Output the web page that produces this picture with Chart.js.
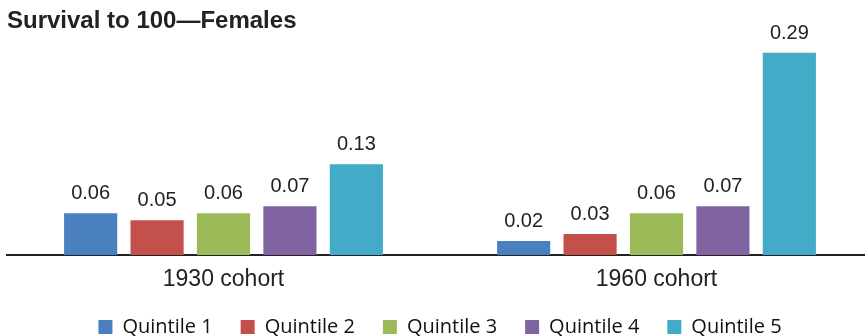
<!DOCTYPE html>
<html>
<head>
<meta charset="utf-8">
<title>Survival to 100—Females</title>
<script src="https://cdn.jsdelivr.net/npm/chart.js@4/dist/chart.umd.min.js"></script>
<style>
  html, body { margin: 0; padding: 0; background: #fff; overflow: hidden; }
  #wrap { width: 865px; height: 336px; overflow: hidden; }
</style>
</head>
<body>
<div id="wrap"><canvas id="chartBar" width="873" height="347"></canvas></div>
<script>
const cohorts = ['1930 cohort', '1960 cohort'];
const quintiles = ['Quintile 1', 'Quintile 2', 'Quintile 3', 'Quintile 4', 'Quintile 5'];
const quintile1 = [0.06, 0.02];
const quintile2 = [0.05, 0.03];
const quintile3 = [0.06, 0.06];
const quintile4 = [0.07, 0.07];
const quintile5 = [0.13, 0.29];
const colors = ['#4a80c0', '#c4504c', '#9bbb59', '#8064a2', '#43abc8'];

const seriesValues = [quintile1, quintile2, quintile3, quintile4, quintile5];

// numbers above each bar
const valueLabels = {
    id: 'valueLabels',
    afterDatasetsDraw(chart) {
        const ctx = chart.ctx;
        ctx.save();
        ctx.font = '20px "Liberation Sans", Arial, sans-serif';
        ctx.fillStyle = '#222';
        ctx.textAlign = 'center';
        ctx.textBaseline = 'alphabetic';
        chart.data.datasets.forEach((ds, i) => {
            chart.getDatasetMeta(i).data.forEach((bar, j) => {
                ctx.fillText(ds.data[j].toFixed(2), bar.x, bar.y - 14);
            });
        });
        ctx.restore();
    }
};

const ctx = document.getElementById('chartBar').getContext('2d');
new Chart(ctx, {
    type: 'bar',
    data: {
        labels: cohorts,
        datasets: quintiles.map((name, i) => ({
            label: name,
            data: seriesValues[i],
            backgroundColor: colors[i],
            borderWidth: 0,
            categoryPercentage: 0.767,
            barPercentage: 0.8
        }))
    },
    options: {
        responsive: false,
        animation: false,
        layout: { padding: { left: 7, right: 0, top: 0, bottom: 0 } },
        plugins: {
            tooltip: { enabled: false },
            title: {
                display: true,
                text: 'Survival to 100—Females',
                align: 'start',
                color: '#222',
                font: { family: '"Liberation Sans", Arial, sans-serif', size: 24, weight: 'bold' },
                padding: { top: 7, bottom: 3 }
            },
            legend: {
                position: 'bottom',
                labels: {
                    boxWidth: 14,
                    boxHeight: 14,
                    padding: 28,
                    color: '#111',
                    font: { family: '"Open Sans", sans-serif', size: 20 }
                }
            }
        },
        scales: {
            x: {
                grid: { display: false, drawTicks: false },
                border: { display: true, color: '#222', width: 2 },
                ticks: {
                    padding: 11,
                    color: '#222',
                    font: { family: '"Liberation Sans", Arial, sans-serif', size: 23 }
                },
                afterFit(scale) { scale.height = 34; }
            },
            y: {
                display: false,
                min: 0,
                max: 0.31
            }
        }
    },
    plugins: [valueLabels]
});
</script>
</body>
</html>
